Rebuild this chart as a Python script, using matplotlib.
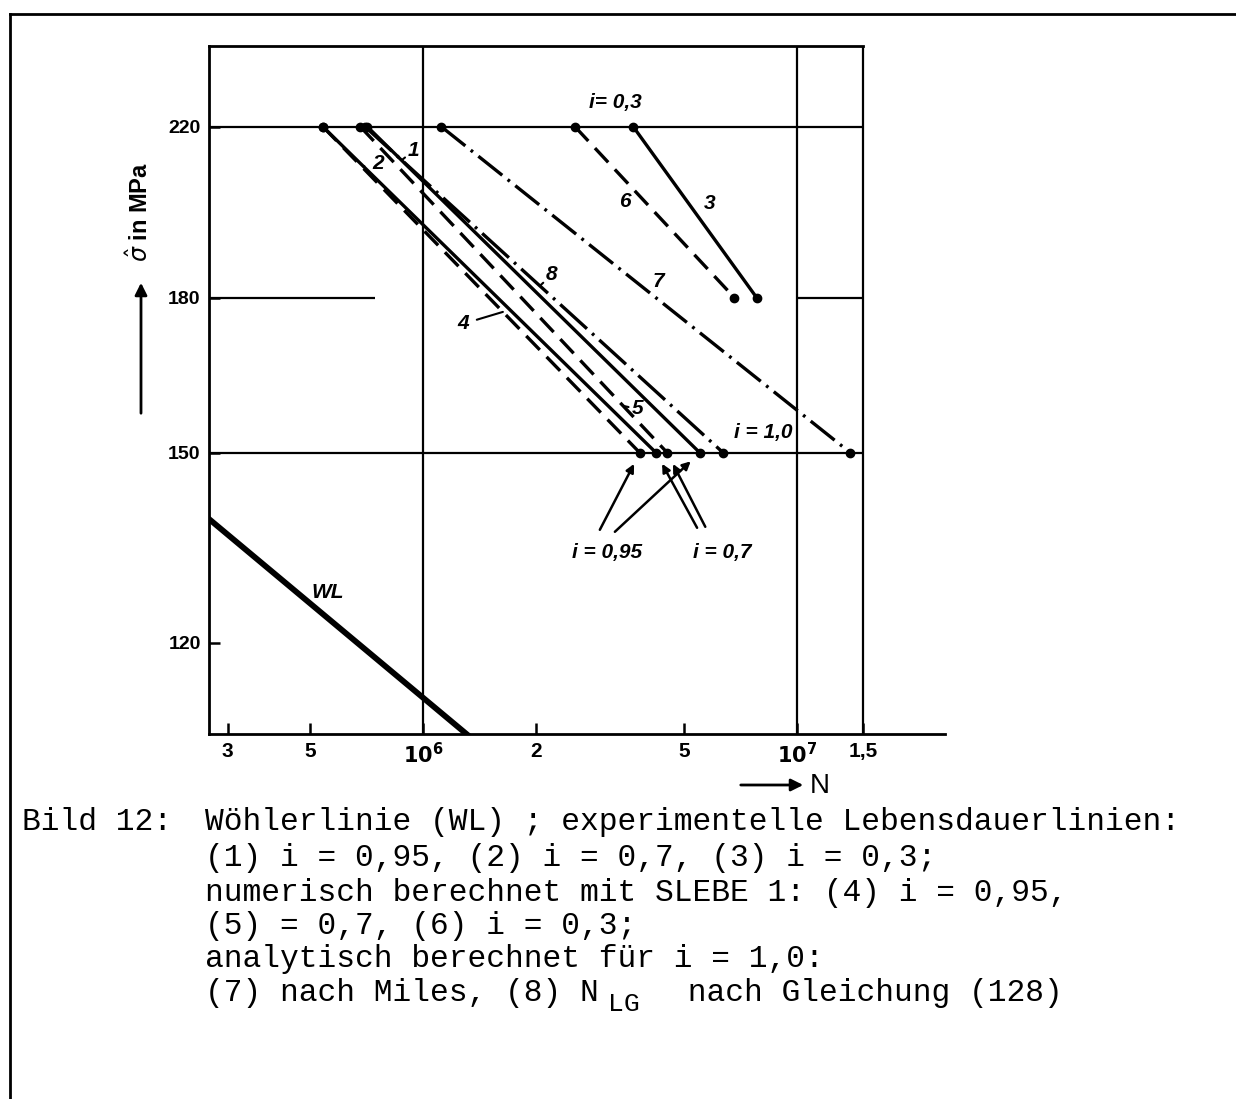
import numpy as np
import matplotlib.pyplot as plt
from matplotlib.lines import Line2D
from matplotlib.ticker import FixedLocator, FixedFormatter, NullLocator

# Lebensdauerlinien 1..8: Start bei 220 MPa, Ende bei stress_end
line_ids = ['1', '2', '3', '4', '5', '6', '7', '8']
n_start = [7.1e5, 5.4e5, 3.65e6, 5.4e5, 6.8e5, 2.55e6, 1.12e6, 7.0e5]
n_end = [5.5e6, 4.2e6, 7.8e6, 3.8e6, 4.5e6, 6.8e6, 1.39e7, 6.35e6]
stress_start = [220, 220, 220, 220, 220, 220, 220, 220]
stress_end = [150, 150, 180, 150, 150, 180, 150, 150]

# Woehlerlinie (WL)
n_wl = [2.65e5, 1.33e6]
s_wl = [139.0, 107.5]

x_ticks = [3e5, 5e5, 1e6, 2e6, 5e6, 1e7, 1.5e7]
x_labels = ['3', '5', r'$\mathbf{10^{6}}$', '2', '5', r'$\mathbf{10^{7}}$', '1,5']
y_ticks = [120, 150, 180, 220]
y_labels = ['120', '150', '180', '220']

plt.rcParams['lines.scale_dashes'] = False
W, H = 1236, 1099
fig = plt.figure(figsize=(W / 100, H / 100), dpi=100)
ax = fig.add_axes([209 / W, 1 - 734 / H, (945 - 209) / W, (734 - 46) / H])
ax.set_xscale('log')
ax.set_yscale('log')
x0, x1 = 2.677e5, 2.488e7
ax.set_xlim(x0, x1)
ax.set_ylim(107.8, 241.9)

ax.xaxis.set_major_locator(FixedLocator(x_ticks))
ax.xaxis.set_major_formatter(FixedFormatter(x_labels))
ax.xaxis.set_minor_locator(NullLocator())
ax.yaxis.set_major_locator(FixedLocator(y_ticks))
ax.yaxis.set_major_formatter(FixedFormatter(y_labels))
ax.yaxis.set_minor_locator(NullLocator())
ax.tick_params(direction='in', length=8, width=1.8, pad=6)
ax.tick_params(axis='x', labelsize=15)
ax.tick_params(axis='y', labelsize=14)
for lab in ax.get_xticklabels() + ax.get_yticklabels():
    lab.set_fontweight('bold')
    lab.set_family('Liberation Sans')

for side in ['left', 'bottom', 'top']:
    ax.spines[side].set_linewidth(2)
ax.spines['right'].set_visible(False)
ax.spines['top'].set_bounds(x0, 1.5e7)

# Gitter
grid_kw = dict(color='k', lw=1.6)
for xv in [1e6, 1e7, 1.5e7]:
    ax.axvline(xv, **grid_kw)
ax.hlines([220, 150], x0, 1.5e7, **grid_kw)
ax.hlines(180, x0, 7.44e5, **grid_kw)
ax.hlines(180, 1e7, 1.5e7, **grid_kw)

styles = {
    '1': '-', '2': '-', '3': '-',
    '4': (0, (14, 7)), '5': (0, (14, 7)), '6': (0, (14, 7)),
    '7': (0, (22, 5, 2, 5)), '8': (0, (26, 5, 2, 5)),
}
lines = {}
for k, a, b, sa, sb in zip(line_ids, n_start, n_end, stress_start, stress_end):
    ax.plot([a, b], [sa, sb], color='k', lw=2.4, linestyle=styles[k])
    ax.plot([a, b], [sa, sb], 'o', color='k', ms=6)
    lines[k] = (a, b, sa, sb)

ax.plot(n_wl, s_wl, color='k', lw=4.2, solid_capstyle='butt')
lines['WL'] = (n_wl[0], n_wl[1], s_wl[0], s_wl[1])


def point_on(k, s):
    a, b, sa, sb = lines[k]
    t = (np.log(s) - np.log(sa)) / (np.log(sb) - np.log(sa))
    return np.exp(np.log(a) + t * (np.log(b) - np.log(a))), s


lab_kw = dict(fontsize=15, fontweight='bold', fontstyle='italic',
              family='Liberation Sans', ha='center', va='center')
lead = dict(arrowstyle='-', lw=1.5, color='k', shrinkA=4, shrinkB=0)

ax.annotate('1', xy=point_on('1', 211.5), xytext=(12, 10), textcoords='offset pixels',
            arrowprops=lead, **lab_kw)
ax.annotate('2', xy=point_on('2', 210.0), xytext=(15, 3), textcoords='offset pixels',
            arrowprops=lead, **lab_kw)
ax.annotate('3', xy=point_on('3', 201.0), xytext=(21, 0), textcoords='offset pixels', **lab_kw)
ax.annotate('6', xy=point_on('6', 201.5), xytext=(-20, 0), textcoords='offset pixels', **lab_kw)
ax.annotate('7', xy=point_on('7', 182.5), xytext=(17, 4), textcoords='offset pixels', **lab_kw)
ax.annotate('8', xy=point_on('8', 182.5), xytext=(12, 11), textcoords='offset pixels',
            arrowprops=lead, **lab_kw)
ax.annotate('4', xy=point_on('4', 177.0), xytext=(-40, -12), textcoords='offset pixels',
            arrowprops=lead, **lab_kw)
ax.annotate('5', xy=point_on('5', 158.5), xytext=(14, -3), textcoords='offset pixels',
            arrowprops=lead, **lab_kw)

ax.annotate('i= 0,3', xy=(n_start[5], 220), xytext=(40, 24), textcoords='offset pixels', **lab_kw)
ax.annotate('i = 1,0', xy=(n_end[7], 150), xytext=(40, 20), textcoords='offset pixels', **lab_kw)
ax.annotate('i = 0,95', xy=(n_end[3], 150), xytext=(-33, -100), textcoords='offset pixels', **lab_kw)
ax.annotate('i = 0,7', xy=(n_end[1], 150), xytext=(66, -100), textcoords='offset pixels', **lab_kw)
ax.annotate('WL', xy=point_on('WL', 126.0), xytext=(20, 9), textcoords='offset pixels', **lab_kw)

arr = dict(arrowstyle='-|>', lw=1.8, color='k', shrinkA=0, shrinkB=9, mutation_scale=12)
ax.annotate('', xy=(n_end[3], 150), xytext=(-40, -77), textcoords='offset pixels', arrowprops=arr)
ax.annotate('', xy=(n_end[0], 150), xytext=(-85, -79), textcoords='offset pixels', arrowprops=arr)
ax.annotate('', xy=(n_end[1], 150), xytext=(41, -75), textcoords='offset pixels', arrowprops=arr)
ax.annotate('', xy=(n_end[4], 150), xytext=(38, -74), textcoords='offset pixels', arrowprops=arr)

# Achsenbeschriftung
fig.text(140 / W, 1 - 212 / H, r'$\hat{\sigma}$ in MPa', rotation=90, ha='center', va='center',
         fontsize=17, fontweight='bold', family='Liberation Sans')
ax.annotate('', xy=(141 / W, 1 - 280 / H), xycoords='figure fraction',
            xytext=(141 / W, 1 - 416 / H), textcoords='figure fraction',
            arrowprops=dict(arrowstyle='-|>', lw=2, color='k', mutation_scale=18))
ax.annotate('', xy=(806 / W, 1 - 785 / H), xycoords='figure fraction',
            xytext=(738 / W, 1 - 785 / H), textcoords='figure fraction',
            arrowprops=dict(arrowstyle='-|>', lw=2, color='k', mutation_scale=18))
fig.text(820 / W, 1 - 786 / H, 'N', ha='center', va='center', fontsize=20,
         family='Liberation Sans')

# Rahmen
fig.add_artist(Line2D([10 / W, 10 / W], [0, 1 - 14 / H], transform=fig.transFigure, color='k', lw=2))
fig.add_artist(Line2D([10 / W, 1], [1 - 14 / H, 1 - 14 / H], transform=fig.transFigure, color='k', lw=2))

# Bildunterschrift
cap = dict(family='Liberation Mono', fontsize=22.5, va='center', ha='left', color='black')
fig.text(22 / W, 1 - 822 / H, 'Bild 12:', **cap)
rows = [
    (822, 'Wöhlerlinie (WL) ; experimentelle Lebensdauerlinien:'),
    (858, '(1) i = 0,95, (2) i = 0,7, (3) i = 0,3;'),
    (893, 'numerisch berechnet mit SLEBE 1: (4) i = 0,95,'),
    (926, '(5) = 0,7, (6) i = 0,3;'),
    (959, 'analytisch berechnet für i = 1,0:'),
    (993, '(7) nach Miles, (8) N'),
]
for yy, txt in rows:
    fig.text(205 / W, 1 - yy / H, txt, **cap)
fig.text(608 / W, 1 - 1004 / H, 'LG', **dict(cap, fontsize=19))
fig.text(669 / W, 1 - 993 / H, ' nach Gleichung (128)', **cap)

fig.savefig('out.png', dpi=100)
